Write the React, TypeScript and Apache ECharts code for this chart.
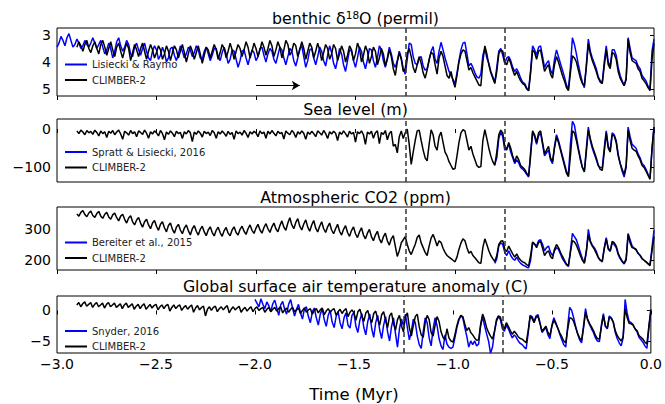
import React, { useEffect, useRef } from "react";
import * as echarts from "echarts";

// ---------- DATA (step 0.01 Myr) ----------
const STEP = 0.01;
const LR04_START = -3.0;
const CLIMBER_START = -2.9;
const SL16_START = -0.8;
const BEREITER_START = -0.8;
const SNYDER_START = -2.0;

const d18oLR04 = [
  3.45, 3.30, 3.05, 3.20, 3.40, 3.10, 2.95, 3.20, 3.45, 3.35,
  3.15, 3.30, 3.50, 3.40, 3.20, 3.35, 3.45, 3.30, 3.10, 3.30,
  3.50, 3.35, 3.20, 3.45, 3.70, 3.55, 3.30, 3.50, 3.85, 3.60,
  3.25, 3.10, 3.40, 3.60, 3.45, 3.20, 3.35, 3.70, 3.80, 3.45,
  3.30, 3.55, 3.75, 3.50, 3.30, 3.60, 3.85, 3.95, 3.60, 3.40,
  3.55, 3.90, 3.75, 3.45, 3.65, 4.00, 3.85, 3.50, 3.45, 3.75,
  3.95, 3.70, 3.40, 3.60, 3.85, 3.70, 3.45, 3.55, 3.80, 3.65,
  3.40, 3.55, 3.85, 3.90, 3.60, 3.45, 3.70, 3.95, 3.75, 3.50,
  3.50, 3.80, 3.95, 3.65, 3.45, 3.70, 4.05, 3.90, 3.55, 3.60,
  3.90, 4.20, 3.95, 3.60, 3.55, 3.85, 4.10, 3.80, 3.55, 3.65,
  3.95, 3.80, 3.50, 3.45, 3.75, 4.00, 3.70, 3.50, 3.60, 3.90,
  4.05, 3.75, 3.45, 3.55, 3.85, 4.10, 3.80, 3.50, 3.60, 3.95,
  4.15, 3.85, 3.50, 3.40, 3.80, 4.20, 3.95, 3.55, 3.50, 3.85,
  4.10, 3.80, 3.45, 3.60, 3.95, 4.15, 3.75, 3.40, 3.65, 4.05,
  4.25, 3.90, 3.50, 3.70, 4.10, 4.35, 3.95, 3.55, 3.60, 3.95,
  4.20, 3.85, 3.45, 3.60, 4.00, 4.25, 3.90, 3.50, 3.55, 3.95,
  4.20, 3.85, 3.40, 3.55, 3.95, 4.20, 3.85, 3.45, 3.70, 4.05,
  4.20, 3.95, 3.60, 3.85, 4.25, 4.45, 3.90, 3.30, 3.35, 3.80,
  4.05, 4.10, 3.85, 3.80, 4.15, 4.30, 4.25, 3.95, 3.60, 3.43,
  3.90, 4.05, 3.60, 3.27, 3.55, 3.85, 4.10, 4.35, 4.50, 4.65,
  4.80, 4.40, 3.95, 3.55, 3.30, 3.27, 3.70, 4.15, 4.05, 4.20,
  4.40, 4.55, 4.60, 4.45, 3.75, 3.50, 3.85, 4.05, 4.35, 4.55,
  4.75, 4.20, 3.60, 3.50, 3.75, 4.05, 3.85, 3.80, 3.95, 4.20,
  4.35, 4.25, 4.40, 4.60, 4.75, 4.80, 4.95, 5.06, 4.30, 3.40,
  3.55, 3.75, 3.45, 3.40, 3.80, 4.20, 4.05, 3.95, 4.30, 4.45,
  3.90, 3.55, 3.80, 4.05, 4.30, 4.55, 4.85, 5.00, 4.20, 3.10,
  3.35, 3.70, 4.10, 4.45, 4.75, 4.95, 4.10, 3.15, 3.60, 3.85,
  4.05, 4.25, 4.55, 4.70, 4.75, 4.00, 3.40, 4.00, 4.15, 3.55,
  3.55, 3.75, 4.20, 4.50, 4.70, 4.88, 4.60, 3.10, 3.50, 3.85,
  3.90, 3.95, 4.15, 4.25, 4.50, 4.60, 4.70, 4.90, 5.00, 3.60,
  3.15,
];

const d18oClimber = [
  3.45, 3.25, 3.40, 3.60, 3.35, 3.20, 3.50, 3.65, 3.40, 3.25,
  3.50, 3.70, 3.35, 3.20, 3.45, 3.75, 3.50, 3.25, 3.55, 3.80,
  3.45, 3.30, 3.60, 3.85, 3.55, 3.30, 3.50, 3.95, 3.65, 3.35,
  3.55, 3.80, 3.50, 3.30, 3.60, 3.90, 3.60, 3.35, 3.55, 3.85,
  3.65, 3.40, 3.55, 3.90, 3.70, 3.40, 3.60, 3.95, 3.65, 3.40,
  3.55, 3.85, 3.60, 3.35, 3.65, 4.00, 3.70, 3.40, 3.60, 3.90,
  3.65, 3.40, 3.70, 4.05, 3.75, 3.45, 3.55, 3.85, 3.60, 3.35,
  3.55, 3.90, 3.65, 3.35, 3.50, 3.85, 3.60, 3.30, 3.55, 3.90,
  3.60, 3.35, 3.50, 3.80, 3.55, 3.25, 3.45, 3.85, 3.60, 3.30,
  3.50, 3.80, 3.55, 3.25, 3.45, 3.75, 3.50, 3.20, 3.40, 3.80,
  3.55, 3.25, 3.45, 3.85, 3.55, 3.20, 3.35, 3.75, 3.60, 3.30,
  3.40, 3.80, 3.55, 3.25, 3.50, 3.90, 3.60, 3.30, 3.45, 3.85,
  3.60, 3.30, 3.55, 3.95, 3.65, 3.35, 3.50, 3.90, 3.70, 3.35,
  3.50, 3.95, 3.70, 3.40, 3.60, 4.00, 3.75, 3.40, 3.55, 3.95,
  3.70, 3.30, 3.50, 4.00, 3.75, 3.40, 3.60, 4.05, 3.80, 3.45,
  3.60, 4.10, 3.85, 3.50, 3.70, 4.15, 3.90, 3.55, 3.80, 4.25,
  4.50, 4.00, 3.65, 3.90, 4.35, 4.25, 3.70, 3.50, 3.80, 4.20,
  4.40, 4.10, 3.80, 4.05, 4.40, 4.60, 4.30, 3.90, 3.65, 3.70,
  4.10, 4.45, 3.85, 3.60, 3.80, 4.15, 4.50, 4.60, 4.35, 4.70,
  4.94, 4.50, 4.00, 3.70, 3.55, 3.60, 3.95, 4.30, 4.20, 4.40,
  4.55, 4.70, 4.85, 4.88, 4.00, 3.40, 3.70, 4.10, 4.40, 4.60,
  4.80, 4.35, 3.70, 3.55, 3.60, 4.00, 4.10, 3.85, 4.05, 4.30,
  4.50, 4.35, 4.55, 4.70, 4.80, 4.85, 5.00, 5.06, 4.40, 3.55,
  3.65, 3.90, 3.60, 3.55, 3.95, 4.35, 4.20, 4.10, 4.45, 4.60,
  4.10, 3.80, 4.00, 4.25, 4.50, 4.70, 4.95, 5.06, 4.40, 3.77,
  3.85, 4.00, 4.30, 4.60, 4.80, 4.88, 4.20, 3.33, 3.70, 3.95,
  4.15, 4.35, 4.60, 4.75, 4.80, 4.15, 3.55, 4.10, 4.25, 3.65,
  3.70, 3.90, 4.35, 4.60, 4.75, 4.88, 4.65, 3.15, 3.65, 3.95,
  4.00, 4.05, 4.25, 4.35, 4.60, 4.70, 4.80, 4.95, 5.06, 3.90,
  3.30,
];

const seaLevelSL16 = [
  -92, -75, -25, -8, -20, -55, -50, -40, -60, -75,
  -90, -80, -88, -100, -105, -110, -118, -125, -60, -8,
  -20, -40, -18, -10, -40, -70, -62, -55, -80, -90,
  -45, -15, -30, -50, -70, -90, -110, -120, -40, 20,
  10, -20, -50, -75, -100, -110, -50, 5, -30, -50,
  -65, -80, -95, -100, -102, -50, -5, -45, -55, -10,
  -15, -30, -65, -90, -110, -125, -100, 5, -20, -40,
  -45, -50, -65, -75, -90, -95, -105, -118, -128, -55,
  5,
];

const seaLevelClimber = [
  -5, -12, -3, -8, -15, -4, -10, -6, -14, -3,
  -9, -18, -5, -12, -7, -22, -6, -11, -4, -15,
  -8, -3, -13, -27, -6, -10, -16, -4, -12, -7,
  -20, -5, -9, -14, -3, -11, -24, -7, -13, -5,
  -10, -18, -4, -12, -28, -8, -14, -5, -11, -20,
  -6, -12, -9, -25, -7, -13, -4, -10, -33, -8,
  -14, -5, -11, -21, -6, -12, -8, -17, -4, -10,
  -24, -7, -13, -5, -11, -19, -6, -14, -9, -27,
  -5, -12, -8, -16, -4, -11, -22, -7, -13, -6,
  -10, -20, -5, -12, -8, -24, -6, -13, -4, -11,
  -18, -6, -12, -9, -26, -5, -11, -15, -4, -10,
  -22, -7, -13, -5, -11, -27, -8, -14, -6, -12,
  -20, -5, -10, -16, -4, -12, -25, -7, -13, -6,
  -11, -30, -8, -14, -5, -12, -21, -6, -13, -9,
  -34, -7, -12, -5, -15, -40, -8, -13, -6, -24,
  -10, -5, -38, -9, -14, -4, -28, -12, -6, -45,
  -40, -62, -20, -5, -25, -10, 0, -40, -92, -60,
  -30, -5, -3, -30, -55, -75, -83, -40, -2, -15,
  -45, -55, -20, -8, -35, -60, -70, -85, -95, -105,
  -103, -70, -35, -10, -2, -5, -30, -55, -45, -65,
  -80, -95, -100, -98, -30, -2, -25, -50, -70, -85,
  -95, -60, -15, -3, -10, -45, -55, -35, -50, -70,
  -85, -70, -80, -95, -100, -105, -115, -122, -70, -5,
  -15, -35, -10, -5, -35, -65, -55, -45, -75, -85,
  -50, -20, -35, -55, -75, -95, -115, -124, -70, -5,
  -10, -30, -55, -80, -100, -112, -60, -3, -25, -45,
  -60, -75, -95, -105, -108, -60, -10, -50, -60, -15,
  -18, -35, -70, -90, -105, -118, -95, -3, -30, -50,
  -55, -58, -70, -80, -95, -100, -110, -120, -131, -50,
  5,
];

const co2Bereiter = [
  190, 205, 245, 255, 250, 225, 215, 230, 215, 205,
  200, 210, 198, 190, 185, 182, 178, 176, 200, 255,
  250, 245, 262, 265, 250, 230, 240, 245, 225, 215,
  230, 240, 235, 220, 205, 195, 185, 180, 230, 285,
  275, 265, 245, 225, 205, 190, 225, 298, 262, 248,
  240, 228, 210, 200, 195, 240, 272, 235, 228, 255,
  250, 240, 218, 205, 195, 188, 200, 285, 265, 245,
  238, 232, 222, 215, 205, 200, 195, 190, 186, 240,
  295,
];

const co2Climber = [
  347, 340, 352, 358, 345, 338, 350, 356, 342, 336,
  348, 355, 340, 333, 346, 352, 337, 330, 344, 350,
  335, 325, 340, 346, 330, 318, 334, 341, 322, 312,
  328, 336, 318, 305, 322, 330, 312, 300, 318, 326,
  308, 295, 314, 322, 303, 290, 310, 318, 298, 286,
  305, 314, 296, 284, 302, 312, 294, 280, 300, 310,
  292, 280, 298, 308, 290, 278, 296, 306, 288, 277,
  295, 305, 287, 276, 294, 304, 286, 278, 296, 306,
  288, 280, 298, 308, 292, 282, 300, 312, 295, 285,
  302, 314, 296, 286, 304, 316, 300, 288, 306, 318,
  300, 290, 310, 325, 305, 295, 318, 335, 312, 300,
  320, 332, 308, 296, 315, 328, 305, 292, 312, 326,
  302, 290, 308, 322, 300, 288, 306, 318, 296, 284,
  300, 314, 292, 280, 298, 310, 288, 276, 294, 306,
  284, 272, 290, 303, 280, 268, 286, 298, 275, 262,
  280, 292, 268, 255, 274, 286, 262, 248, 268, 278,
  245, 212, 230, 255, 265, 275, 250, 230, 218, 235,
  250, 272, 280, 255, 240, 225, 215, 245, 270, 282,
  265, 245, 262, 256, 238, 225, 215, 210, 205, 200,
  195, 210, 235, 255, 268, 262, 240, 222, 228, 215,
  208, 200, 192, 190, 240, 268, 250, 230, 215, 205,
  196, 215, 250, 260, 262, 235, 228, 245, 232, 220,
  210, 220, 208, 200, 195, 192, 186, 182, 215, 258,
  252, 240, 256, 260, 238, 215, 225, 230, 212, 205,
  235, 250, 240, 225, 212, 200, 188, 184, 225, 262,
  258, 248, 232, 215, 200, 192, 230, 280, 258, 245,
  235, 222, 208, 200, 198, 235, 268, 238, 230, 260,
  256, 245, 222, 208, 198, 190, 205, 282, 255, 240,
  238, 235, 222, 216, 205, 200, 195, 188, 183, 230,
  275,
];

const tempSnyder = [
  1.8, 1.2, 0.6, 1.9, 1.0, 0.3, 1.4, 0.8, -0.2, 1.1,
  1.7, 0.5, -0.8, 0.9, 1.5, 0.2, -0.6, 1.0, 1.8, 0.4,
  -0.9, 0.2, 1.0, -0.4, -1.4, 0.3, 0.6, -1.0, -2.0, -0.2,
  0.4, -1.2, -2.4, -0.6, 0.3, -1.5, -2.6, -0.8, 0.0, -1.9,
  -2.8, -1.0, -0.2, -2.0, -3.0, -1.2, -0.4, -2.4, -2.9, -0.8,
  -0.3, -2.6, -3.6, -1.6, -0.5, -2.8, -4.0, -1.8, -0.6, -3.0,
  -4.4, -2.0, -0.8, -3.2, -4.6, -2.4, -1.0, -3.5, -5.0, -2.6,
  -1.2, -3.8, -6.0, -3.0, -1.4, -2.5, -0.6, -2.8, -4.8, -3.4,
  -1.4, -2.0, -4.2, -5.6, -6.2, -3.5, -1.2, -2.0, -4.5, -5.8,
  -3.0, -1.2, -2.5, -4.6, -5.8, -6.4, -4.0, -5.5, -6.0, -6.2,
  -6.0, -4.5, -2.8, -1.6, -0.9, -1.2, -2.8, -4.2, -6.0, -5.0,
  -5.6, -5.0, -5.8, -5.5, -2.5, -1.0, -2.5, -3.8, -5.0, -7.0,
  -6.0, -3.5, -1.8, -1.0, -1.5, -3.0, -3.4, -2.4, -3.0, -3.8,
  -4.5, -4.0, -4.4, -5.0, -5.4, -5.6, -6.0, -6.3, -3.8, -0.8,
  -1.0, -1.8, -0.9, -0.7, -2.0, -3.6, -3.2, -2.8, -4.0, -4.6,
  -2.4, -1.2, -2.0, -2.9, -3.9, -4.8, -5.6, -6.0, -2.5, 0.5,
  0.0, -1.2, -2.6, -3.8, -4.8, -5.3, -2.5, 0.3, -1.5, -2.3,
  -3.0, -3.6, -4.5, -5.0, -5.1, -2.4, -0.5, -2.6, -3.0, -0.9,
  -1.2, -1.9, -3.6, -4.6, -5.3, -5.8, -4.5, 1.8, -0.4, -1.8,
  -2.0, -2.3, -3.0, -3.5, -4.4, -4.8, -5.2, -5.8, -6.2, -3.0,
  0.2,
];

const tempClimber = [
  0.9, 1.3, 0.6, 1.1, 1.4, 0.7, 1.0, 1.3, 0.5, 1.0,
  1.3, 0.6, 0.9, 1.2, 0.4, 1.0, 1.3, 0.6, 0.9, 1.2,
  0.5, 0.8, 1.1, 0.3, 0.9, 1.2, 0.5, 0.8, 1.1, 0.2,
  0.7, 1.0, 0.3, 0.8, 1.1, 0.2, 0.6, 1.0, 0.4, 0.8,
  1.0, 0.1, 0.6, 0.9, 0.3, 0.8, 1.0, -0.1, 0.5, 0.9,
  0.3, 0.7, 0.9, 0.0, 0.5, 0.8, 0.2, 0.6, 0.9, -0.3,
  0.4, 0.8, 0.1, 0.5, 0.7, -0.9, 0.2, 0.6, 0.0, 0.5,
  0.7, -0.2, 0.3, 0.6, 0.1, 0.5, 0.8, -0.4, 0.2, 0.6,
  0.1, 0.4, 0.7, -0.3, 0.2, 0.5, -0.1, 0.3, 0.6, -0.2,
  0.3, 0.6, 0.0, 0.3, 0.5, -0.3, 0.2, 0.5, -0.2, 0.2,
  0.5, -0.1, 0.3, 0.6, -0.4, 0.1, 0.4, -0.3, 0.2, 0.5,
  -0.2, 0.1, 0.4, -0.5, 0.0, 0.4, -0.3, 0.1, 0.3, -0.6,
  0.0, 0.3, -0.4, 0.1, 0.4, -0.7, -0.1, 0.3, -0.3, 0.1,
  0.3, -0.8, -0.2, 0.2, -0.5, 0.0, 0.3, -1.0, -0.3, 0.1,
  -0.4, -1.6, -0.2, 0.2, -0.9, -1.8, -0.4, 0.0, -1.2, -2.0,
  -0.5, -0.1, -1.4, -2.4, -0.7, -0.2, -1.6, -2.8, -0.9, -0.4,
  -2.2, -3.2, -1.5, -0.8, -2.5, -3.5, -1.0, -0.4, -2.8, -4.2,
  -2.5, -1.0, -0.6, -2.7, -4.0, -4.4, -2.0, -0.8, -1.5, -3.6,
  -4.2, -2.4, -1.0, -1.8, -3.5, -4.4, -4.8, -3.0, -4.5, -5.0,
  -5.2, -4.0, -2.5, -1.4, -0.8, -1.0, -2.2, -3.3, -2.8, -3.6,
  -4.0, -4.5, -4.9, -4.8, -2.3, -0.6, -1.5, -2.8, -3.6, -4.2,
  -4.7, -3.4, -1.5, -0.9, -1.1, -2.5, -3.0, -2.0, -2.6, -3.3,
  -3.9, -3.4, -3.8, -4.3, -4.6, -4.7, -5.0, -5.3, -3.4, -1.0,
  -1.3, -2.0, -1.1, -1.0, -2.2, -3.4, -3.0, -2.6, -3.6, -4.1,
  -2.6, -1.6, -2.2, -2.9, -3.7, -4.3, -5.0, -5.3, -3.0, -1.2,
  -1.3, -1.8, -2.8, -3.8, -4.5, -4.9, -2.8, -0.3, -1.4, -2.1,
  -2.7, -3.3, -4.1, -4.6, -4.7, -2.7, -0.8, -2.5, -2.9, -1.1,
  -1.3, -1.9, -3.3, -4.1, -4.6, -5.0, -4.3, 0.3, -1.1, -2.1,
  -2.2, -2.4, -3.0, -3.3, -4.1, -4.4, -4.7, -5.2, -5.5, -2.5,
  0.0,
];

const panelTitles = [
  "benthic δ{sup|18}O (permil)",
  "Sea level (m)",
  "Atmospheric CO2 (ppm)",
  "Global surface air temperature anomaly (C)",
];
const obsNames = ["Lisiecki & Raymo", "Spratt & Lisiecki, 2016", "Bereiter et al., 2015", "Snyder, 2016"];
const modelName = "CLIMBER-2";
const yTickValues = [[3, 4, 5], [-100, 0], [200, 300], [-5, 0]];
const transitionTimes = [-1.25, -0.75];
const arrowFrom = [-2.0, 4.87];
const arrowTo = [-1.78, 4.87];
const xLabel = "Time (Myr)";

// ---------- layout ----------
const FONT = "DejaVu Sans";
const GRID_LEFT = 57;
const GRID_WIDTH = 597;
const grids = [
  { top: 28, height: 68 },
  { top: 119, height: 63 },
  { top: 207, height: 63 },
  { top: 296, height: 63 },
];
const yRanges = [
  { min: 2.74, max: 5.26, inverse: true },
  { min: -138, max: 26, inverse: false },
  { min: 169, max: 369, inverse: false },
  { min: -6.97, max: 2.37, inverse: false },
];
const titleY = [18.5, 109.5, 197.5, 286.5];
const legendTop = [58.5, 146, 236.5, 325];

const toPairs = (start: number, vals: number[]) =>
  vals.map((v, i) => [Number((start + i * STEP).toFixed(2)), v]);

const minus = (s: string) => s.replace("-", "\u2212");

export default function App() {
  const ref = useRef<HTMLDivElement>(null);
  useEffect(() => {
    if (!ref.current) return;
    const chart = echarts.init(ref.current, null, { renderer: "svg" });

    const obsData = [
      toPairs(LR04_START, d18oLR04),
      toPairs(SL16_START, seaLevelSL16),
      toPairs(BEREITER_START, co2Bereiter),
      toPairs(SNYDER_START, tempSnyder),
    ];
    const modelData = [
      toPairs(CLIMBER_START, d18oClimber),
      toPairs(CLIMBER_START, seaLevelClimber),
      toPairs(CLIMBER_START, co2Climber),
      toPairs(CLIMBER_START, tempClimber),
    ];

    const series: any[] = [];
    for (let i = 0; i < 4; i++) {
      const obs: any = {
        name: obsNames[i],
        type: "line",
        xAxisIndex: i,
        yAxisIndex: i,
        data: obsData[i],
        showSymbol: false,
        symbol: "none",
        color: "#0000ff",
        lineStyle: { color: "#0000ff", width: 1.5 },
        z: 2,
      };
      if (i === 0) {
        obs.markLine = {
          silent: true,
          symbol: ["none", "arrow"],
          symbolSize: [7, 8],
          label: { show: false },
          lineStyle: { color: "#000", width: 1.2, type: "solid" },
          data: [[{ coord: arrowFrom }, { coord: arrowTo }]],
        };
      }
      series.push(obs);
      series.push({
        name: modelName,
        type: "line",
        xAxisIndex: i,
        yAxisIndex: i,
        data: modelData[i],
        showSymbol: false,
        symbol: "none",
        color: "#000000",
        lineStyle: { color: "#000000", width: 1.5 },
        z: 3,
        markLine: {
          silent: true,
          symbol: "none",
          label: { show: false },
          lineStyle: { color: "#333", width: 1.5, type: [5, 3] },
          data: transitionTimes.map((t) => ({ xAxis: t })),
        },
      });
    }

    const option: any = {
      animation: false,
      backgroundColor: "#ffffff",
      textStyle: { fontFamily: FONT },
      grid: grids.map((g) => ({
        left: GRID_LEFT,
        width: GRID_WIDTH,
        top: g.top,
        height: g.height,
        show: true,
        borderColor: "#000",
        borderWidth: 1,
        backgroundColor: "transparent",
      })),
      xAxis: grids.map((_, i) => ({
        gridIndex: i,
        type: "value",
        min: -3,
        max: 0,
        interval: 0.5,
        axisLine: { show: false },
        splitLine: { show: false },
        axisTick: { show: true, length: 4, lineStyle: { color: "#000", width: 1 } },
        axisLabel: {
          show: i === 3,
          fontSize: 14,
          color: "#000",
          fontFamily: FONT,
          margin: 4,
          formatter: (v: number) => minus(v.toFixed(1)),
        },
        name: i === 3 ? xLabel : "",
        nameLocation: "middle",
        nameGap: 33,
        nameTextStyle: { fontSize: 16.5, color: "#000", fontFamily: FONT },
      })),
      yAxis: grids.map((_, i) => ({
        gridIndex: i,
        type: "value",
        min: yRanges[i].min,
        max: yRanges[i].max,
        inverse: yRanges[i].inverse,
        axisLine: { show: false },
        splitLine: { show: false },
        axisTick: {
          show: true,
          length: 4,
          lineStyle: { color: "#000", width: 1 },
          customValues: yTickValues[i],
        },
        axisLabel: {
          fontSize: 14,
          color: "#000",
          fontFamily: FONT,
          margin: 6,
          customValues: yTickValues[i],
          formatter: (v: number) => minus(String(Math.round(v))),
        },
      })),
      legend: grids.map((_, i) => ({
        orient: "vertical",
        left: 65,
        top: legendTop[i],
        padding: 0,
        itemGap: 3.5,
        itemWidth: 22,
        itemHeight: 2,
        icon: "rect",
        selectedMode: false,
        textStyle: { fontSize: 10, color: "#222", fontFamily: FONT, lineHeight: 12 },
        data: [
          { name: obsNames[i], itemStyle: { color: "#0000ff" } },
          { name: modelName, itemStyle: { color: "#000000" } },
        ],
      })),
      graphic: panelTitles.map((t, i) => ({
        type: "text",
        x: GRID_LEFT + GRID_WIDTH / 2,
        y: titleY[i],
        style: {
          text: t,
          fill: "#000",
          font: `15.8px "${FONT}"`,
          fontSize: 15.8,
          fontFamily: FONT,
          textAlign: "center",
          textVerticalAlign: "middle",
          rich: {
            sup: { fontSize: 10.5, fontFamily: FONT, fill: "#000", verticalAlign: "top", lineHeight: 19 },
          },
        },
      })),
      series,
    };

    chart.setOption(option);
    return () => chart.dispose();
  }, []);

  return (
    <div
      ref={ref}
      style={{ position: "fixed", left: 0, top: 0, width: 665, height: 404, background: "#fff" }}
    />
  );
}
